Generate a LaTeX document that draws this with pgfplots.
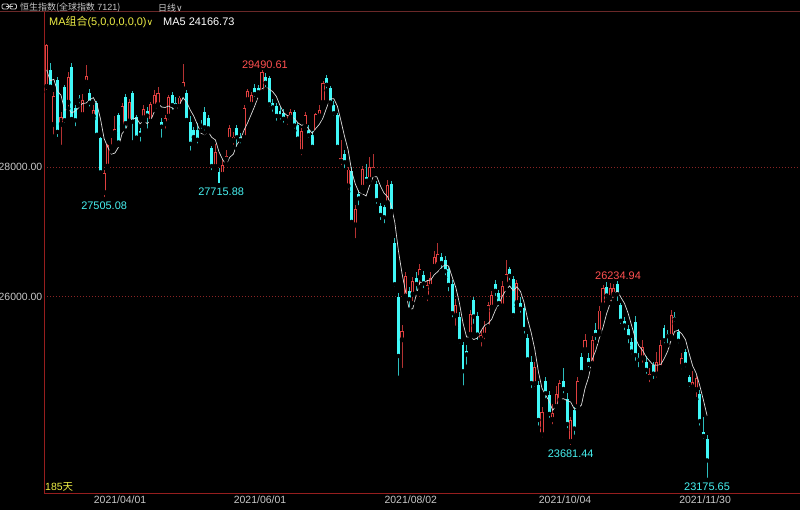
\documentclass[border=0pt]{standalone}
\usepackage{pgfplots}
\pgfplotsset{compat=1.18}
\usepackage{pgfplotstable}
\usepackage{fontspec}
\setmainfont{Liberation Sans}
\newfontfamily\cjk{Noto Sans CJK SC}
\newfontfamily\dejavu{DejaVu Sans}
\definecolor{upred}{HTML}{E04040}
\definecolor{upwick}{HTML}{B43232}
\definecolor{dncyan}{HTML}{40F8F8}
\definecolor{dnwick}{HTML}{2CBEBE}
\definecolor{gridred}{HTML}{8A2424}
\definecolor{axred}{HTML}{961E1E}
\definecolor{hdrline}{HTML}{6A2828}
\definecolor{lbl}{HTML}{C8C8C8}
\definecolor{yell}{HTML}{F0F046}
\definecolor{anred}{HTML}{FF5050}
\definecolor{ancyan}{HTML}{46F0F0}
\definecolor{maline}{HTML}{DCDCDC}

\pgfplotstableread{
i O H L C M
0 29234 29897 29157 29880 29497
1 29496 29604 29200 29237 29329
2 28650 29157 28470 29098 29353
3 29342 29380 28430 28541 29170
4 28650 28850 28310 28773 29106
5 29234 29270 28650 28720 28874
6 28990 29465 28900 29380 28902
7 29540 29600 28680 28740 28831
8 28910 28950 28596 28720 28867
9 29060 29110 28950 29028 28918
10 28800 29130 28780 29034 28980
11 29300 29573 29240 29406 28986
12 29136 29200 28900 28991 29036
13 28776 28956 28740 28885 29069
14 28980 29010 28470 28497 28963
15 28440 28470 27880 27918 28739
16 27600 27960 27505.08 27900 28438
17 28005 28360 27950 28336 28307
18 28300 28450 28240 28338 28198
19 28520 28780 28490 28578 28214
20 28800 28830 28340 28378 28306
21 28620 28980 28600 28939 28514
22 29084 29120 28560 28675 28582
23 28700 29050 28650 29008 28716
24 29136 29170 28380 28699 28740
25 28776 28800 28400 28453 28755
26 28560 28600 28360 28497 28666
27 28751 28950 28700 28901 28712
28 28868 28930 28560 28793 28669
29 28699 29000 28650 28970 28723
30 28930 29180 28880 29106 28853
31 28956 29240 28930 29136 28981
32 28699 28760 28420 28622 28925
33 28660 28800 28560 28755 28918
34 28776 29110 28700 29079 28940
35 29110 29160 28850 28953 28909
36 28990 29080 28880 28942 28870
37 28930 29100 28870 29071 28960
38 29200 29590 29150 29303 29070
39 29140 29180 28690 28725 28999
40 28700 28780 28220 28358 28880
41 28570 28620 28400 28460 28783
42 28570 28680 28330 28420 28653
43 28660 28720 28560 28637 28520
44 28850 28930 28530 28611 28497
45 28750 28800 28540 28596 28545
46 28290 28320 27920 28014 28456
47 28000 28350 27960 28231 28418
48 27920 27990 27715.88 27719 28234
49 27880 28120 27840 28028 28118
50 28110 28260 28050 28174 28033
51 28420 28640 28380 28594 28149
52 28400 28540 28310 28470 28197
53 28600 28650 28280 28458 28345
54 28470 28520 28330 28412 28422
55 28450 28950 28420 28911 28569
56 29030 29210 28990 29166 28683
57 28960 29150 28930 29113 28812
58 29220 29280 29050 29124 28945
59 29220 29260 29100 29152 29093
60 29150 29490.61 29120 29468 29205
61 29390 29450 29200 29297 29231
62 29370 29400 28900 28966 29201
63 28990 29050 28820 28918 29160
64 28940 28980 28680 28787 29087
65 28870 28930 28700 28782 28950
66 28830 28900 28650 28743 28839
67 28700 28800 28620 28739 28794
68 28760 28900 28700 28842 28779
69 28850 28880 28560 28639 28749
70 28640 28680 28380 28437 28680
71 28230 28600 28150 28559 28643
72 28620 28850 28560 28801 28656
73 28570 28640 28420 28489 28585
74 28500 28560 28260 28310 28519
75 28520 28840 28480 28817 28595
76 28780 28950 28740 28882 28660
77 28990 29330 28950 29288 28757
78 29370 29420 29180 29268 28913
79 29220 29250 28950 28994 29050
80 28960 29020 28760 28828 29052
81 28800 28840 28250 28310 28938
82 28080 28420 28000 28144 28709
83 28200 28260 27950 28073 28470
84 27700 28000 27620 27961 28263
85 27940 28000 27100 27153 27928
86 27100 27420 26870 27345 27735
87 27580 27650 27380 27515 27609
88 27680 28020 27620 27963 27587
89 27850 28050 27720 27787 27553
90 27800 28150 27760 27996 27721
91 27940 28200 27880 28005 27853
92 27730 27780 27400 27490 27848
93 27400 27450 27150 27259 27707
94 27380 27420 27100 27225 27595
95 27440 27800 27400 27724 27541
96 27730 27780 27280 27322 27404
97 26828 26900 26130 26192 27144
98 25995 26050 24748 25086 26710
99 25330 25560 24870 25474 26360
100 26000 26380 25950 26315 26078
101 26080 26150 25800 25961 25806
102 26030 26300 25900 26236 25814
103 26290 26380 26060 26195 26036
104 26290 26500 26150 26427 26227
105 26330 26400 26100 26205 26205
106 25990 26250 25900 26179 26248
107 26150 26380 26100 26283 26258
108 26460 26700 26420 26606 26340
109 26490 26830 26460 26660 26387
110 26610 26680 26400 26518 26449
111 26560 26620 26300 26392 26492
112 26420 26470 26050 26181 26471
113 26200 26250 25650 25746 26299
114 25700 25960 25520 25867 26141
115 25690 25760 25250 25316 25900
116 25250 25300 24600 24850 25592
117 25160 25250 24920 25110 25378
118 25410 25790 25350 25728 25374
119 25950 26000 25550 25694 25340
120 25700 25760 25300 25416 25360
121 25330 25480 25200 25408 25471
122 25400 25620 25310 25540 25557
123 25530 25920 25480 25879 25587
124 25830 26090 25780 26028 25654
125 26200 26260 25980 26090 25789
126 26050 26100 25820 25902 25888
127 25850 26240 25800 26164 26013
128 26180 26560 26120 26354 26108
129 26420 26460 26220 26321 26166
130 26280 26320 25650 25716 26091
131 25900 26250 25850 26206 26152
132 25900 26000 25720 25814 26082
133 25830 25880 25400 25502 25912
134 25360 25420 24980 25033 25654
135 25000 25080 24560 24668 25445
136 24650 25000 24580 24921 25188
137 24640 24700 23980 24099 24845
138 23870 24300 23800 24222 24589
139 24700 24760 24400 24511 24484
140 24480 24540 24100 24192 24389
141 24100 24350 24000 24209 24247
142 24300 24620 24250 24500 24327
143 24400 24720 24350 24664 24415
144 24700 24900 24480 24576 24428
145 24430 24520 23940 24036 24397
146 23760 24150 23681.44 24104 24376
147 24250 24300 23840 23967 24269
148 24300 24760 24250 24702 24277
149 25070 25130 24780 24838 24329
150 25180 25420 25120 25325 24587
151 25060 25130 24880 24963 24759
152 24960 25400 24940 25331 25032
153 25480 25600 25300 25410 25173
154 25450 25850 25420 25787 25363
155 25870 26180 25850 26136 25525
156 26150 26220 25950 26018 25736
157 25980 26210 25900 26127 25896
158 26030 26200 25950 26132 26040
159 26200 26234.94 25900 26038 26090
160 25870 25900 25550 25629 25989
161 25620 25680 25450 25556 25896
162 25500 25560 25250 25377 25746
163 25300 25360 25080 25154 25551
164 25610 25700 24980 25099 25363
165 25060 25130 24880 25025 25242
166 25050 25330 24950 25225 25176
167 25000 25080 24780 24871 25075
168 24750 24900 24650 24813 25007
169 24950 25000 24700 24813 24949
170 24800 25150 24720 24996 24944
171 24900 25330 24850 25248 24948
172 25510 25560 25250 25328 25040
173 25420 25480 25250 25391 25155
174 25380 25800 25350 25714 25335
175 25680 25760 25580 25650 25466
176 25450 25500 25250 25320 25481
177 24920 25130 24850 25050 25425
178 25150 25200 24880 24951 25337
179 24760 24800 24580 24652 25125
180 24600 24860 24560 24686 24932
181 24560 24800 24420 24740 24816
182 24500 24560 23980 24081 24622
183 23920 24150 23780 23852 24402
184 23800 23860 23175.65 23475 24167
}\kdata

\begin{document}
\begin{tikzpicture}[x=1bp,y=1bp]
\useasboundingbox (0,0) rectangle (800,510);
\fill[black] (0,0) rectangle (800,510);
\begin{axis}[
  at={(44bp,17bp)}, anchor=south west, scale only axis,
  width=756bp, height=481bp,
  xmin=-0.75, xmax=209.9, ymin=22973, ymax=30390,
  axis lines*=left, axis line style={draw=axred, line width=0.9bp},
  xtick={21,60,102,145,184},
  xticklabels={2021/04/01,2021/06/01,2021/08/02,2021/10/04,2021/11/30},
  ytick={26000,28000}, yticklabels={26000.00,28000.00},
  major tick length=0pt,
  ymajorgrids, grid style={gridred, dash pattern=on 1bp off 2bp, line width=0.8bp},
  tick label style={text=lbl, font=\fontsize{10.5}{12}\selectfont},
  yticklabel style={inner sep=1.5bp},
  xticklabel style={inner sep=3bp, xshift=-2bp},
]
% wicks of falling candles
\addplot[only marks, mark=none, forget plot,
  restrict expr to domain={\thisrow{O}-\thisrow{C}}{0.5:100000},
  error bars/.cd, y dir=plus, y explicit, error mark=none,
  error bar style={draw=dnwick, line width=0.9bp}]
  table[x=i, y=L, y error plus expr={\thisrow{H}-\thisrow{L}}] {\kdata};
% wicks of rising candles
\addplot[only marks, mark=none, forget plot,
  restrict expr to domain={\thisrow{C}-\thisrow{O}}{0:100000},
  error bars/.cd, y dir=plus, y explicit, error mark=none,
  error bar style={draw=upwick, line width=0.9bp}]
  table[x=i, y=L, y error plus expr={\thisrow{H}-\thisrow{L}}] {\kdata};
% bodies of falling candles
\addplot[only marks, mark=none, forget plot,
  restrict expr to domain={\thisrow{O}-\thisrow{C}}{0.5:100000},
  error bars/.cd, y dir=plus, y explicit, error mark=none,
  error bar style={draw=dncyan, line width=2.9bp}]
  table[x=i, y=C, y error plus expr={\thisrow{O}-\thisrow{C}}] {\kdata};
% bodies of rising candles (outline)
\addplot[only marks, mark=none, forget plot,
  restrict expr to domain={\thisrow{C}-\thisrow{O}}{0:100000},
  error bars/.cd, y dir=plus, y explicit, error mark=none,
  error bar style={draw=upred, line width=3.1bp}]
  table[x=i, y=O, y error plus expr={\thisrow{C}-\thisrow{O}}] {\kdata};
% hollow inside
\addplot[only marks, mark=none, forget plot,
  restrict expr to domain={\thisrow{C}-\thisrow{O}}{0:100000},
  error bars/.cd, y dir=plus, y explicit, error mark=none,
  error bar style={draw=black, line width=1.3bp}]
  table[x=i, y expr={\thisrow{O}+15}, y error plus expr={max(\thisrow{C}-\thisrow{O}-30,0)}] {\kdata};
% MA5
\addplot[maline, line width=0.7bp, mark=none] table[x=i, y=M] {\kdata};

\node[anchor=south, text=anred, inner sep=2bp, font=\fontsize{11}{13}\selectfont] at (axis cs:60.8,29490.61) {29490.61};
\node[anchor=north, text=ancyan, inner sep=2.5bp, font=\fontsize{11}{13}\selectfont] at (axis cs:16,27505.08) {27505.08};
\node[anchor=north, text=ancyan, inner sep=2.5bp, font=\fontsize{11}{13}\selectfont] at (axis cs:48.6,27715.88) {27715.88};
\node[anchor=south, text=anred, inner sep=2bp, font=\fontsize{11}{13}\selectfont] at (axis cs:159.2,26234.94) {26234.94};
\node[anchor=north, text=ancyan, inner sep=2.5bp, font=\fontsize{11}{13}\selectfont] at (axis cs:146,23681.44) {23681.44};
\node[anchor=north, text=ancyan, inner sep=2.5bp, font=\fontsize{11}{13}\selectfont] at (axis cs:184,23175.65) {23175.65};
\end{axis}
% header
\draw[hdrline, line width=1bp] (0,498) -- (800,498);
\draw[lbl, line width=0.8bp, rounded corners=1.2bp] (2,501) rectangle (8.5,506);
\draw[lbl, line width=0.8bp, rounded corners=1.2bp] (10,501) rectangle (16.5,506);
\draw[lbl, line width=0.8bp] (6,503.5) -- (12.5,503.5);
\node[anchor=west, inner sep=0, text=lbl, font=\fontsize{9}{10}\selectfont] at (20,502.3) {{\cjk 恒生指数(全球指数} 7121{\cjk )}};
\node[anchor=west, inner sep=0, text=lbl, font=\fontsize{9}{10}\selectfont] at (158,502.3) {{\cjk 日线}{\dejavu\fontsize{9}{10}\selectfont ∨}};
\node[anchor=west, inner sep=0, text=yell, font=\fontsize{11}{13}\selectfont] at (49,488) {MA{\cjk 组合}(5,0,0,0,0,0){\dejavu\fontsize{9}{10}\selectfont ∨}};
\node[anchor=west, inner sep=0, text=white, font=\fontsize{11}{13}\selectfont] at (163,488) {MA5 24166.73};
\node[anchor=west, inner sep=0, text=yell, font=\fontsize{10.5}{12}\selectfont] at (45,23) {185{\cjk 天}};
\end{tikzpicture}
\end{document}
